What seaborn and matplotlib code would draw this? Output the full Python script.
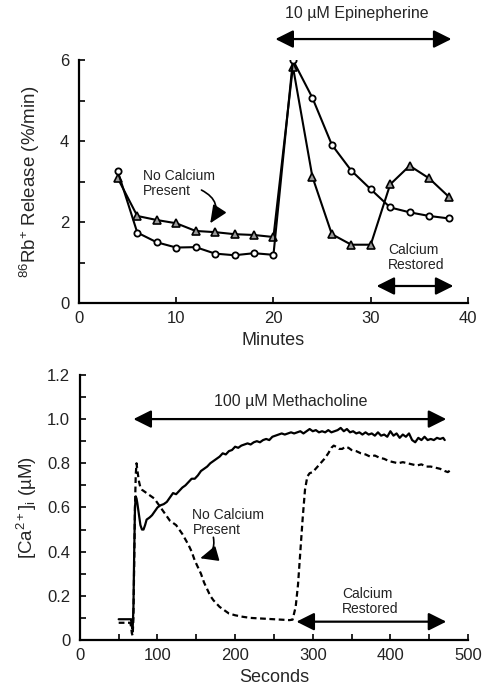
import numpy as np
import pandas as pd
import matplotlib
matplotlib.use("Agg")
import matplotlib.pyplot as plt
import seaborn as sns

# ---------------- data: top panel (86Rb+ release) ----------------
minutes = [4, 6, 8, 10, 12, 14, 16, 18, 20, 22, 24, 26, 28, 30, 32, 34, 36, 38]
release_circles = [3.25, 1.74, 1.50, 1.37, 1.38, 1.22, 1.18, 1.23, 1.19, 6.0,
                   5.07, 3.91, 3.27, 2.81, 2.36, 2.24, 2.15, 2.09]
release_triangles = [3.08, 2.15, 2.05, 1.97, 1.78, 1.75, 1.70, 1.68, 1.63, 5.84,
                     3.12, 1.70, 1.44, 1.44, 2.93, 3.39, 3.08, 2.63]

# ---------------- data: bottom panel ([Ca2+]i) ----------------
sec_solid = [50, 55, 60, 65, 66, 67, 68, 69, 70, 71, 72, 73, 74, 76, 78, 80, 82, 84,
             86, 88, 90, 93, 96, 100, 104, 108, 112, 116, 120, 124, 128, 132, 136,
             140, 144, 148, 152, 156, 160, 164, 168, 172, 176, 180, 184, 188, 192,
             196, 200, 204, 208, 212, 216, 220, 224, 228, 232, 236, 240, 244, 248,
             252, 256, 260, 264, 268, 272, 276, 280, 284, 288, 292, 296, 300, 304,
             308, 312, 316, 320, 324, 328, 332, 336, 340, 344, 348, 352, 356, 360,
             364, 368, 372, 376, 380, 384, 388, 392, 396, 400, 404, 408, 412, 416,
             420, 424, 428, 432, 436, 440, 444, 448, 452, 456, 460, 464, 468, 470]
ca_solid = [0.094, 0.094, 0.094, 0.094, 0.094, 0.06, 0.05, 0.15, 0.40, 0.60, 0.65,
            0.64, 0.62, 0.57, 0.52, 0.50, 0.50, 0.52, 0.545, 0.55, 0.555, 0.565,
            0.58, 0.60, 0.61, 0.615, 0.625, 0.645, 0.665, 0.66, 0.675, 0.69, 0.70,
            0.715, 0.73, 0.73, 0.745, 0.765, 0.775, 0.785, 0.80, 0.81, 0.82, 0.83,
            0.845, 0.84, 0.855, 0.86, 0.875, 0.87, 0.88, 0.885, 0.89, 0.885, 0.895,
            0.90, 0.895, 0.905, 0.91, 0.905, 0.92, 0.925, 0.93, 0.935, 0.93, 0.935,
            0.94, 0.935, 0.94, 0.945, 0.935, 0.945, 0.955, 0.945, 0.95, 0.94, 0.945,
            0.94, 0.95, 0.94, 0.945, 0.95, 0.96, 0.945, 0.955, 0.94, 0.945, 0.935,
            0.94, 0.93, 0.94, 0.93, 0.935, 0.925, 0.94, 0.925, 0.93, 0.92, 0.945,
            0.925, 0.935, 0.915, 0.93, 0.92, 0.935, 0.905, 0.895, 0.915, 0.905,
            0.92, 0.905, 0.91, 0.905, 0.915, 0.91, 0.915, 0.905]

sec_dashed = [50, 55, 60, 65, 66, 67, 68, 69, 70, 71, 72, 73, 74, 76, 78, 80, 84, 88,
              92, 96, 100, 104, 108, 112, 116, 120, 124, 128, 132, 136, 140, 144, 148,
              152, 156, 160, 164, 168, 172, 176, 180, 186, 192, 200, 210, 220, 230,
              240, 250, 260, 270, 274, 278, 281, 284, 287, 290, 293, 296, 300, 305,
              310, 315, 320, 324, 327, 330, 334, 338, 342, 346, 350, 356, 362, 368,
              374, 380, 386, 392, 398, 404, 410, 416, 422, 428, 434, 440, 446, 452,
              458, 464, 470, 474, 478, 480]
ca_dashed = [0.078, 0.078, 0.078, 0.078, 0.06, 0.03, 0.02, 0.10, 0.35, 0.60, 0.75,
             0.80, 0.77, 0.72, 0.69, 0.68, 0.67, 0.66, 0.65, 0.64, 0.62, 0.60, 0.58,
             0.56, 0.54, 0.53, 0.52, 0.50, 0.48, 0.455, 0.43, 0.40, 0.36, 0.33, 0.30,
             0.26, 0.23, 0.20, 0.18, 0.165, 0.15, 0.135, 0.12, 0.112, 0.105, 0.10,
             0.098, 0.096, 0.094, 0.092, 0.090, 0.092, 0.15, 0.25, 0.40, 0.55, 0.68,
             0.74, 0.755, 0.76, 0.78, 0.80, 0.82, 0.845, 0.87, 0.88, 0.875, 0.865,
             0.865, 0.875, 0.87, 0.86, 0.855, 0.845, 0.84, 0.83, 0.835, 0.825, 0.82,
             0.81, 0.805, 0.80, 0.805, 0.80, 0.795, 0.79, 0.795, 0.785, 0.785, 0.78,
             0.775, 0.765, 0.76, 0.77, 0.765]

top_yticks = [0, 2, 4, 6]
top_xticks = [0, 10, 20, 30, 40]
bot_yticks = [0, 0.2, 0.4, 0.6, 0.8, 1.0, 1.2]
bot_ytick_labels = ["0", "0.2", "0.4", "0.6", "0.8", "1.0", "1.2"]
bot_xticks = [0, 100, 200, 300, 400, 500]

# ---------------- style ----------------
sns.set_theme(style="ticks")
plt.rcParams['font.family'] = ['Liberation Sans', 'DejaVu Sans']
plt.rcParams['mathtext.fontset'] = 'custom'
plt.rcParams['mathtext.rm'] = 'Liberation Sans'
plt.rcParams['mathtext.it'] = 'Liberation Sans'

fig = plt.figure(figsize=(4.87, 6.94), dpi=100)
ax1 = fig.add_axes([0.162, 0.5634, 0.799, 0.350])
ax2 = fig.add_axes([0.164, 0.0778, 0.797, 0.382])

LW = 1.5
TICKFS = 12
LABFS = 13
ANNFS = 10

# ---------------- top panel ----------------
df_top = pd.DataFrame({"Minutes": minutes, "circ": release_circles, "tri": release_triangles})
sns.lineplot(data=df_top, x="Minutes", y="tri", ax=ax1, color="black", lw=LW,
             marker="^", markersize=5.5, markerfacecolor="#999999",
             markeredgecolor="black", markeredgewidth=1.2)
sns.lineplot(data=df_top, x="Minutes", y="circ", ax=ax1, color="black", lw=LW,
             marker="o", markersize=4.5, markerfacecolor="white",
             markeredgecolor="black", markeredgewidth=1.3)

ax1.set_xlim(0, 40)
ax1.set_ylim(0, 6)
ax1.set_xticks(top_xticks)
ax1.set_yticks(top_yticks)
ax1.set_yticks([1, 3, 5], minor=True)
ax1.set_xlabel("Minutes", fontsize=LABFS, labelpad=4)
ax1.set_ylabel("$^{86}$Rb$^{+}$ Release (%/min)", fontsize=13.5, labelpad=13)

# ---------------- bottom panel ----------------
df_s = pd.DataFrame({"Seconds": sec_solid, "Ca": ca_solid})
df_d = pd.DataFrame({"Seconds": sec_dashed, "Ca": ca_dashed})
sns.lineplot(data=df_s, x="Seconds", y="Ca", ax=ax2, color="black", lw=1.6)
sns.lineplot(data=df_d, x="Seconds", y="Ca", ax=ax2, color="black", lw=1.6,
             dashes=False, linestyle=(0, (2.6, 1.6)))

ax2.set_xlim(0, 500)
ax2.set_ylim(0, 1.2)
ax2.set_xticks(bot_xticks)
ax2.set_xticks([50, 150, 250, 350, 450], minor=True)
ax2.set_yticks(bot_yticks)
ax2.set_yticklabels(bot_ytick_labels)
ax2.set_yticks([0.1, 0.3, 0.5, 0.7, 0.9, 1.1], minor=True)
ax2.set_xlabel("Seconds", fontsize=LABFS, labelpad=4)
ax2.set_ylabel("[Ca$^{2+}$]$_{i}$ (µM)", fontsize=13.5, labelpad=6)

for ax in (ax1, ax2):
    sns.despine(ax=ax)
    for s in ("left", "bottom"):
        ax.spines[s].set_linewidth(1.6)
        ax.spines[s].set_color("black")
    ax.tick_params(which="both", direction="in", length=4, width=1.2,
                   colors="black", labelsize=TICKFS, pad=6)
    ax.tick_params(axis="y", which="both", pad=7)
    for t in ax.get_xticklabels() + ax.get_yticklabels():
        t.set_color("#222222")

# ---------------- annotations ----------------
dbl = dict(arrowstyle="<|-|>,head_length=0.9,head_width=0.45", color="black", lw=1.6,
           shrinkA=0, shrinkB=0)
ax1.annotate("", xy=(20.2, 6.52), xytext=(38.3, 6.52), arrowprops=dbl, annotation_clip=False)
ax1.text(28.6, 7.15, "10 µM Epinepherine", ha="center", va="center", fontsize=11.5,
         clip_on=False)
ax1.text(6.6, 2.96, "No Calcium\nPresent", ha="left", va="center", fontsize=ANNFS,
         linespacing=1.1, color="#222222")
ax1.annotate("", xy=(13.5, 1.97), xytext=(12.6, 2.79),
             arrowprops=dict(arrowstyle="-|>,head_length=0.9,head_width=0.4", color="black",
                             lw=1.2, shrinkA=0, shrinkB=0, connectionstyle="arc3,rad=-0.55"))
ax1.text(31.8, 1.13, "Calcium\nRestored", ha="left", va="center", fontsize=ANNFS,
         linespacing=1.1, color="#222222")
ax1.annotate("", xy=(30.6, 0.42), xytext=(38.5, 0.42), arrowprops=dbl)

ax2.annotate("", xy=(69, 1.0), xytext=(472, 1.0), arrowprops=dbl)
ax2.text(272, 1.08, "100 µM Methacholine", ha="center", va="center", fontsize=11.5)
ax2.text(145, 0.53, "No Calcium\nPresent", ha="left", va="center", fontsize=ANNFS,
         linespacing=1.1, color="#222222")
ax2.annotate("", xy=(155, 0.37), xytext=(172, 0.465),
             arrowprops=dict(arrowstyle="-|>,head_length=0.9,head_width=0.4", color="black",
                             lw=1.2, shrinkA=0, shrinkB=0, connectionstyle="arc3,rad=-0.45"))
ax2.text(338, 0.173, "Calcium\nRestored", ha="left", va="center", fontsize=ANNFS,
         linespacing=1.1, color="#222222")
ax2.annotate("", xy=(279, 0.083), xytext=(472, 0.083), arrowprops=dbl)

fig.savefig("out.png", dpi=100)
